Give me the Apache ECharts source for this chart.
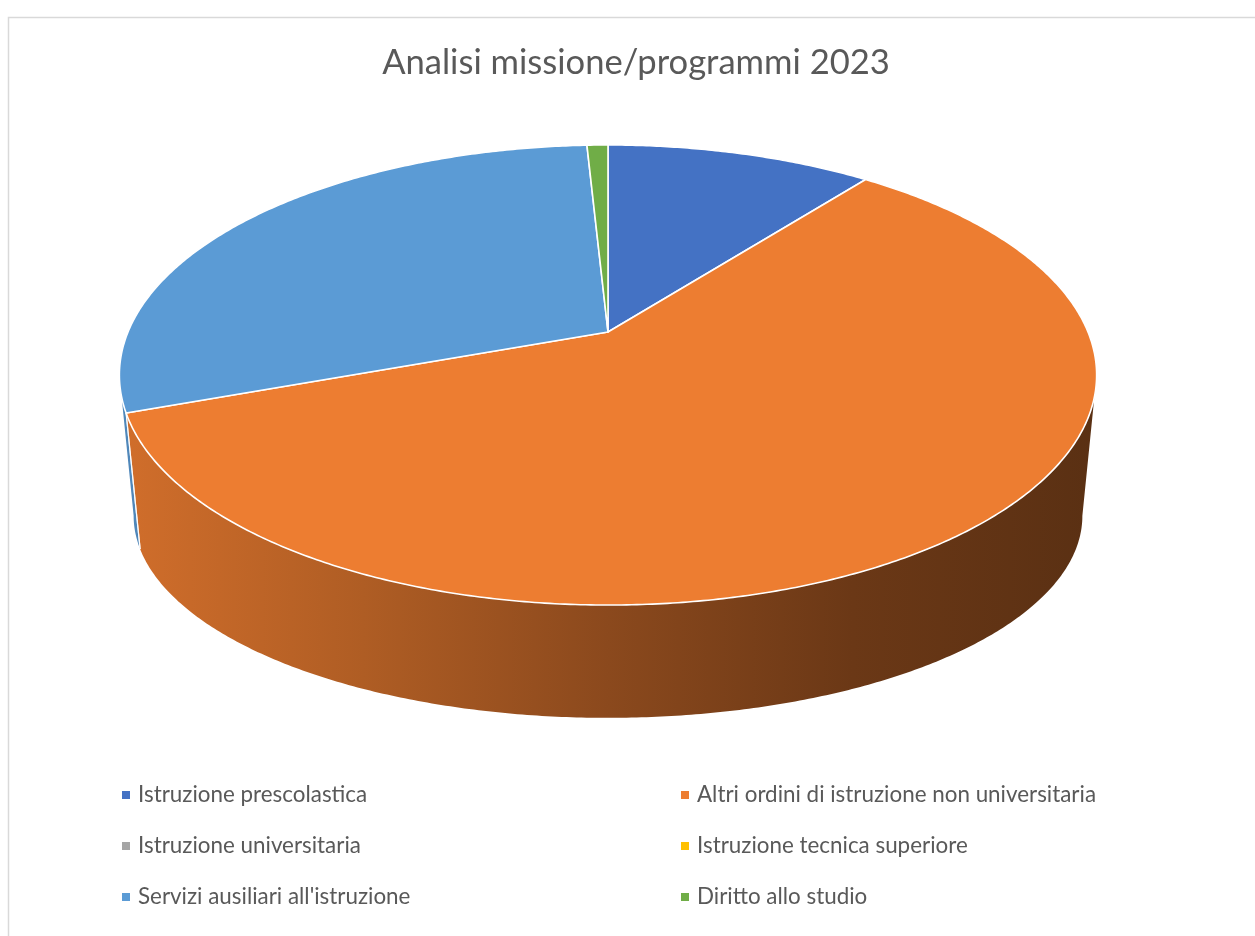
<!DOCTYPE html>
<html>
<head>
<meta charset="utf-8">
<script src="https://cdn.jsdelivr.net/npm/echarts@6/dist/echarts.min.js"></script>
<style>
  html, body { margin: 0; padding: 0; background: #ffffff; }
  #chart { width: 1255px; height: 936px; }
</style>
</head>
<body>
<div id="chart"></div>
<script>
// Spending by programme, mission "Istruzione e diritto allo studio" (2023)
const titleText = 'Analisi missione/programmi 2023';
const categories = [
  'Istruzione prescolastica',
  'Altri ordini di istruzione non universitaria',
  'Istruzione universitaria',
  'Istruzione tecnica superiore',
  "Servizi ausiliari all'istruzione",
  'Diritto allo studio'
];
const values = [105600, 588900, 0, 0, 297200, 8300];
const colors = ['#4472C4', '#ED7D31', '#A5A5A5', '#FFC000', '#5B9BD5', '#70AD47'];
const legendLeftColumn = [categories[0], categories[2], categories[4]];
const legendRightColumn = [categories[1], categories[3], categories[5]];

// ---- 3D pie projection helpers -------------------------------------------
// Angles run clockwise from 12 o'clock. The disc is projected with a mild
// perspective (near edge larger than far edge); the bottom rim is a second,
// flatter projected circle.
const GEO = {
  cx: 608, cy: 332,          // projected centre of the top face
  a: 480, b: 222, p: 0.187,  // top face radii and perspective factor
  a2: 466, b2: 195, p2: 0.187, cy2: 478, // bottom rim
  shadeX0: 119, shadeX1: 1097
};
// angles where the rim outline turns (outer silhouette of the cylinder)
const silhouetteRight = Math.acos(-GEO.p);
const silhouetteLeft = 2 * Math.PI - silhouetteRight;

function topPoint(t) {
  const u = Math.sin(t), v = -Math.cos(t), w = 1 - GEO.p * v;
  return [GEO.cx + GEO.a * u / w, GEO.cy + GEO.b * v / w];
}
function bottomPoint(t) {
  const u = Math.sin(t), v = -Math.cos(t), w = 1 - GEO.p2 * v;
  return [GEO.cx + GEO.a2 * u / w, GEO.cy2 + GEO.b2 * v / w];
}
function arc(fn, t0, t1) {
  const n = Math.max(2, Math.ceil(Math.abs(t1 - t0) / (Math.PI / 360)));
  const pts = [];
  for (let i = 0; i <= n; i++) pts.push(fn(t0 + (t1 - t0) * i / n));
  return pts;
}
const total = values.reduce((s, v) => s + v, 0);
const startAngles = [];
values.reduce((acc, v, i) => { startAngles[i] = acc; return acc + v; }, 0);
function sliceRange(i) {
  const t0 = startAngles[i] / total * 2 * Math.PI;
  const t1 = (startAngles[i] + values[i]) / total * 2 * Math.PI;
  return [t0, t1];
}
function shade(hex, k) {
  const n = parseInt(hex.slice(1), 16);
  const r = Math.round(((n >> 16) & 255) * k);
  const g = Math.round(((n >> 8) & 255) * k);
  const b = Math.round((n & 255) * k);
  return 'rgb(' + r + ',' + g + ',' + b + ')';
}
// side wall lighting: bright on the left, dark on the right
const wallLight = [[0, 0.88], [0.25, 0.74], [0.5, 0.585], [0.75, 0.45], [1, 0.38]];
function wallFill(hex) {
  return {
    type: 'linear', global: true,
    x: GEO.shadeX0, y: 0, x2: GEO.shadeX1, y2: 0,
    colorStops: wallLight.map(s => ({ offset: s[0], color: shade(hex, s[1]) }))
  };
}

// side walls (only the near half of the rim can be seen)
function renderWall(params) {
  const i = params.dataIndex;
  if (!values[i]) return null;
  const [t0, t1] = sliceRange(i);
  const s0 = Math.max(t0, silhouetteRight), s1 = Math.min(t1, silhouetteLeft);
  if (s1 <= s0) return null;
  const pts = arc(topPoint, s0, s1).concat(arc(bottomPoint, s1, s0));
  const children = [{
    type: 'polygon',
    shape: { points: pts },
    style: { fill: wallFill(colors[i]), stroke: null }
  }];
  [t0, t1].forEach(t => {
    if (t > silhouetteRight + 1e-6 && t < silhouetteLeft - 1e-6) {
      const p = topPoint(t), q = bottomPoint(t);
      children.push({
        type: 'line', z2: 5,
        shape: { x1: p[0], y1: p[1], x2: q[0], y2: q[1] },
        style: { stroke: 'rgba(255,255,255,0.85)', lineWidth: 1.2 }
      });
    }
  });
  return { type: 'group', children };
}

// top face of one slice
function makeTopRenderer(i) {
  return function () {
    if (!values[i]) return null;
    const [t0, t1] = sliceRange(i);
    const pts = [[GEO.cx, GEO.cy]].concat(arc(topPoint, t0, t1));
    return {
      type: 'polygon',
      shape: { points: pts },
      style: { fill: colors[i], stroke: '#ffffff', lineWidth: 1.6, lineJoin: 'round' }
    };
  };
}

const series = [{
  name: 'wall',
  type: 'custom',
  coordinateSystem: 'none',
  silent: true,
  z: 1,
  data: values.map(v => [v]),
  renderItem: renderWall
}].concat(categories.map((name, i) => ({
  name: name,
  type: 'custom',
  coordinateSystem: 'none',
  silent: true,
  z: 2,
  itemStyle: { color: colors[i] },
  data: [[values[i]]],
  renderItem: makeTopRenderer(i)
})));

const legendBase = {
  orient: 'vertical',
  top: 782,
  padding: 0,
  itemWidth: 8,
  itemHeight: 8,
  itemGap: 25,
  icon: 'rect',
  selectedMode: false,
  textStyle: {
    fontFamily: 'Lato', fontSize: 22.4, color: '#595959',
    lineHeight: 26, padding: [0, 0, 0, 3]
  }
};

const chart = echarts.init(document.getElementById('chart'), null, { renderer: 'canvas' });
chart.setOption({
  animation: false,
  backgroundColor: '#ffffff',
  title: {
    text: titleText,
    left: 636,
    textAlign: 'center',
    top: 45,
    padding: 0,
    textStyle: { fontFamily: 'Lato', fontSize: 34.6, fontWeight: 'normal', color: '#595959' }
  },
  graphic: [{
    type: 'rect',
    silent: true,
    shape: { x: 8.5, y: 17.5, width: 1300, height: 960 },
    style: { fill: null, stroke: '#d9d9d9', lineWidth: 1.5 }
  }],
  legend: [
    Object.assign({}, legendBase, { left: 122, data: legendLeftColumn }),
    Object.assign({}, legendBase, { left: 681, data: legendRightColumn })
  ],
  series: series
});
</script>
</body>
</html>
